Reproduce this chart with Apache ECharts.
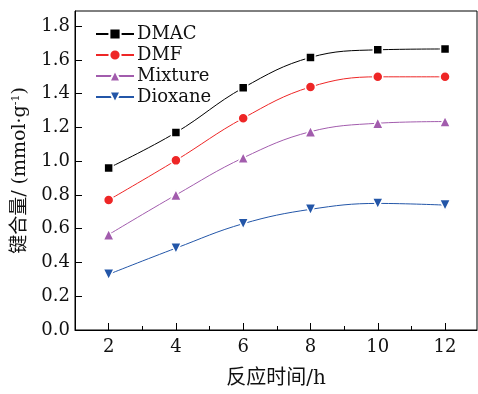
<!DOCTYPE html>
<html>
<head>
<meta charset="utf-8">
<script src="https://cdn.jsdelivr.net/npm/echarts@6/dist/echarts.min.js"></script>
<style>
  html, body { margin: 0; padding: 0; background: #fff; }
  #main { width: 478px; height: 394px; }
</style>
</head>
<body>
<div id="main"></div>
<script>
// 数据
const hours = [2, 4, 6, 8, 10, 12]
const minorHours = [3, 5, 7, 9, 11]
const yTicks = [0, 0.2, 0.4, 0.6, 0.8, 1.0, 1.2, 1.4, 1.6, 1.8]
const dmac = [0.96, 1.17, 1.435, 1.615, 1.66, 1.665]
const dmf = [0.77, 1.005, 1.255, 1.44, 1.5, 1.5]
const mixture = [0.565, 0.80, 1.02, 1.175, 1.225, 1.235]
const dioxane = [0.33, 0.485, 0.63, 0.715, 0.75, 0.74]

// 只有 DejaVu Serif 能显示衬线字体
const font = "'DejaVu Serif', 'Noto Sans CJK SC', serif"

const pairs = (ys) => hours.map((h, i) => [h, ys[i]])

const makeSeries = (name, ys, color, symbol, size) => ({
  name,
  type: 'line',
  data: pairs(ys),
  smooth: 0.4,
  symbol,
  symbolSize: size,
  lineStyle: { color, width: 1 },
  itemStyle: { color, borderColor: '#fff', borderWidth: 1.5 },
  emphasis: { disabled: true }
})

const myChart = echarts.init(document.getElementById('main'))
const option = {
  animation: false,
  grid: {
    left: 75,
    right: 1,
    top: 11,
    bottom: 53,
    show: true,
    borderColor: '#000',
    borderWidth: 1
  },
  legend: {
    orient: 'vertical',
    left: 90,
    top: 20,
    itemWidth: 38,
    itemHeight: 14,
    itemGap: 3,
    textStyle: { fontFamily: font, fontSize: 18, color: '#111', lineHeight: 18, padding: [0, 0, 0, -2] },
    data: ['DMAC', 'DMF', 'Mixture', 'Dioxane']
  },
  xAxis: [
    {
      type: 'value',
      min: 1,
      max: 12.95,
      name: '反应时间/h',
      nameLocation: 'middle',
      nameGap: 39,
      nameTextStyle: { fontFamily: font, fontSize: 20, color: '#111' },
      splitLine: { show: false },
      axisLine: { lineStyle: { color: '#000', width: 1 } },
      axisTick: { inside: true, length: 7, customValues: hours, lineStyle: { color: '#000' } },
      axisLabel: { customValues: hours, margin: 8, fontFamily: font, fontSize: 18, color: '#111' }
    },
    {
      type: 'value',
      position: 'bottom',
      min: 1,
      max: 12.95,
      splitLine: { show: false },
      axisLine: { show: false },
      axisTick: { inside: true, length: 4, customValues: minorHours, lineStyle: { color: '#000' } },
      axisLabel: { show: false }
    }
  ],
  yAxis: {
    type: 'value',
    min: 0,
    max: 1.89,
    name: '键合量/ (mmol·g{sup|-1})',
    nameLocation: 'middle',
    nameGap: 45,
    nameTextStyle: {
      fontFamily: font,
      fontSize: 19,
      color: '#111',
      rich: {
        sup: { fontFamily: font, fontSize: 11, verticalAlign: 'top', padding: [0, 0, 8, 0], color: '#111' }
      }
    },
    splitLine: { show: false },
    axisLine: { show: true, lineStyle: { color: '#000', width: 1 } },
    axisTick: { show: true, inside: true, length: 7, customValues: yTicks, lineStyle: { color: '#000' } },
    axisLabel: {
      customValues: yTicks,
      margin: 5,
      fontFamily: font,
      fontSize: 18,
      color: '#111',
      formatter: (v) => v.toFixed(1)
    }
  },
  series: [
    makeSeries('DMAC', dmac, '#000000', 'rect', 9),
    makeSeries('DMF', dmf, '#EE2626', 'circle', 10),
    makeSeries('Mixture', mixture, '#A25CAD', 'triangle', 11),
    makeSeries('Dioxane', dioxane, '#2356A8', 'path://M0,0 L10,0 L5,9 Z', 11)
  ]
}
myChart.setOption(option)
</script>
</body>
</html>
